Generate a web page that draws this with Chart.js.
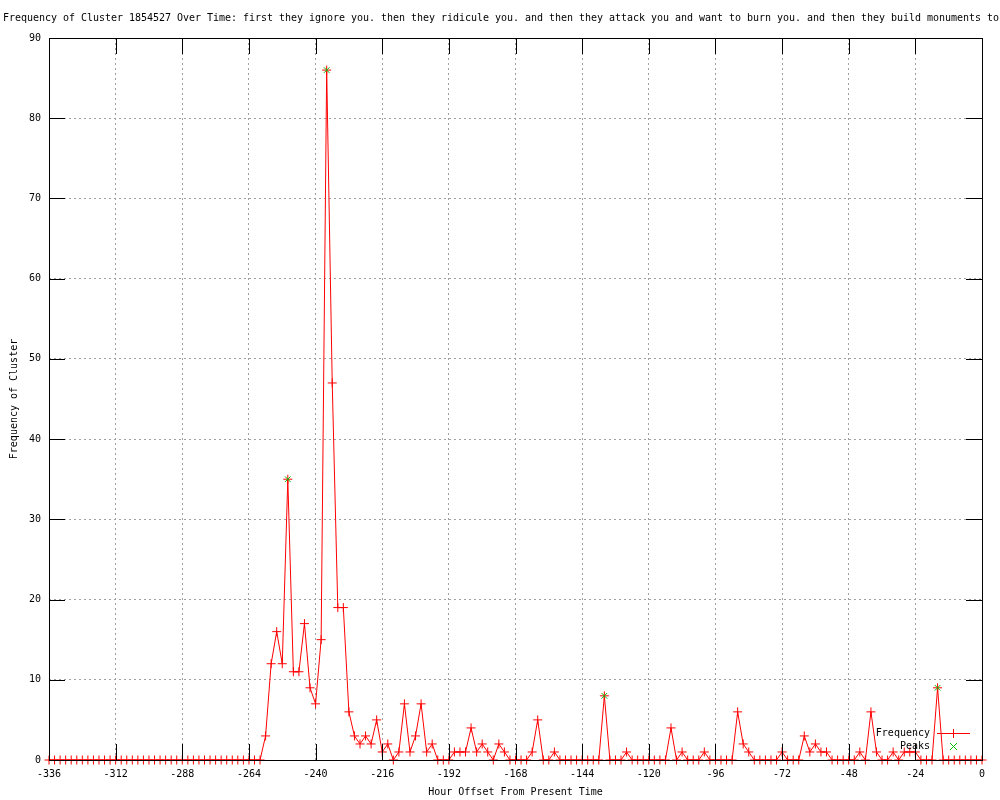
<!DOCTYPE html>
<html>
<head>
<meta charset="utf-8">
<script src="https://cdn.jsdelivr.net/npm/chart.js@4/dist/chart.umd.min.js"></script>
<style>
  html, body { margin: 0; padding: 0; background: #fff; }
  #wrap { width: 1000px; height: 800px; }
</style>
</head>
<body>
<div id="wrap"><canvas id="myChart" width="1000" height="800"></canvas></div>
<script>
// hour offsets, one sample every 2 hours
const hours = [];
for (let h = -336; h <= 0; h += 2) hours.push(h);

const frequency = [
    // -336 .. -260
    0, 0, 0, 0, 0, 0, 0, 0, 0, 0, 0, 0, 0, 0, 0, 0, 0, 0, 0, 0,
    0, 0, 0, 0, 0, 0, 0, 0, 0, 0, 0, 0, 0, 0, 0, 0, 0, 0, 0,
    // -258 .. -196
    3, 12, 16, 12, 35, 11, 11, 17, 9, 7, 15, 86, 47, 19, 19, 6,
    3, 2, 3, 2, 5, 1, 2, 0, 1, 7, 1, 3, 7, 1, 2, 0,
    // -194 .. 0
    0, 0, 1, 1, 1, 4, 1, 2, 1, 0,
    2, 1, 0, 0, 0, 0, 1, 5, 0, 0,
    1, 0, 0, 0, 0, 0, 0, 0, 0, 8,
    0, 0, 0, 1, 0, 0, 0, 0, 0, 0,
    0, 4, 0, 1, 0, 0, 0, 1, 0, 0,
    0, 0, 0, 6, 2, 1, 0, 0, 0, 0,
    0, 1, 0, 0, 0, 3, 1, 2, 1, 1,
    0, 0, 0, 0, 0, 1, 0, 6, 1, 0,
    0, 1, 0, 1, 1, 1, 0, 0, 0, 9,
    0, 0, 0, 0, 0, 0, 0, 0
];

const peakHours = [-250, -236, -136, -16];
const peakValues = [35, 86, 8, 9];

const titleText = "Frequency of Cluster 1854527 Over Time: first they ignore you. then they ridicule you. and then they attack you and want to burn you. and then they build monuments to";

const monoFamily = "'DejaVu Sans Mono', 'Liberation Mono', monospace";
const monoFont = { family: monoFamily, size: 10 };
const red = "#ff0000";
const green = "#00c000";

// gnuplot style title, frame, inward ticks and legend
const gnuplotFrame = {
    id: "gnuplotFrame",
    beforeDraw(chart) {
        const ctx = chart.ctx;
        ctx.save();
        ctx.font = "10px " + monoFamily;
        ctx.fillStyle = "#000";
        ctx.textAlign = "left";
        ctx.textBaseline = "middle";
        // spread the characters to the same pitch as the original
        const pitch = 6.0;
        for (let i = 0; i < titleText.length; i++) {
            ctx.fillText(titleText[i], 3 + i * pitch, 18);
        }
        ctx.restore();
    },
    afterDatasetsDraw(chart) {
        const ctx = chart.ctx;
        const a = chart.chartArea;
        const x = chart.scales.x;
        const y = chart.scales.y;
        const L = Math.round(a.left), R = Math.round(a.right);
        const T = Math.round(a.top), B = Math.round(a.bottom);
        const tick = 16;
        ctx.save();
        ctx.fillStyle = "#000";
        ctx.fillRect(L, T, R - L + 1, 1);
        ctx.fillRect(L, B, R - L + 1, 1);
        ctx.fillRect(L, T, 1, B - T + 1);
        ctx.fillRect(R, T, 1, B - T + 1);
        x.ticks.forEach(function (t) {
            const px = Math.round(x.getPixelForValue(t.value));
            ctx.fillRect(px, B - tick, 1, tick);
            ctx.fillRect(px, T, 1, tick);
        });
        y.ticks.forEach(function (t) {
            const py = Math.round(y.getPixelForValue(t.value));
            ctx.fillRect(L, py, tick, 1);
            ctx.fillRect(R - tick, py, tick, 1);
        });

        // legend
        ctx.font = "10px " + monoFamily;
        ctx.textAlign = "right";
        ctx.textBaseline = "middle";
        ctx.fillText("Frequency", 930, 733);
        ctx.fillText("Peaks", 930, 746);

        ctx.fillStyle = red;
        ctx.fillRect(937, 733, 33, 1);
        ctx.fillRect(953, 729, 1, 9);

        ctx.fillStyle = green;
        for (let i = -3; i <= 3; i++) {
            ctx.fillRect(953 + i, 746 + i, 1, 1);
            ctx.fillRect(953 + i, 746 - i, 1, 1);
        }
        ctx.restore();
    }
};

const config = {
    type: "line",
    data: {
        datasets: [
            {
                label: "Frequency",
                data: hours.map(function (h, i) { return { x: h, y: frequency[i] }; }),
                borderColor: red,
                backgroundColor: red,
                borderWidth: 1,
                pointStyle: "cross",
                pointRadius: 4.5,
                pointBorderColor: red,
                pointBorderWidth: 1,
                tension: 0,
                clip: false,
                order: 2,
            },
            {
                label: "Peaks",
                data: peakHours.map(function (h, i) { return { x: h, y: peakValues[i] }; }),
                showLine: false,
                borderColor: green,
                backgroundColor: green,
                pointStyle: "crossRot",
                pointRadius: 4,
                pointBorderColor: green,
                pointBorderWidth: 1,
                clip: false,
                order: 1,
            },
        ],
    },
    options: {
        responsive: false,
        animation: false,
        events: [],
        layout: { padding: { left: 3, right: 18, top: 38, bottom: 0 } },
        plugins: {
            legend: { display: false },
            tooltip: { enabled: false },
            title: { display: false },
        },
        scales: {
            x: {
                type: "linear",
                min: -336,
                max: 0,
                afterFit: function (scale) { scale.height = 40; },
                ticks: {
                    stepSize: 24,
                    padding: 8,
                    color: "#000",
                    font: monoFont,
                    maxRotation: 0,
                    autoSkip: false,
                },
                grid: { color: "#a0a0a0", lineWidth: 1, drawTicks: false },
                border: { display: false, dash: [2, 3] },
                title: {
                    display: true,
                    text: "Hour Offset From Present Time",
                    color: "#000",
                    font: monoFont,
                    padding: { top: 4, bottom: 2 },
                },
            },
            y: {
                min: 0,
                max: 90,
                afterFit: function (scale) { scale.width = 46; },
                ticks: {
                    stepSize: 10,
                    padding: 8,
                    color: "#000",
                    font: monoFont,
                },
                grid: { color: "#a0a0a0", lineWidth: 1, drawTicks: false },
                border: { display: false, dash: [2, 3] },
                title: {
                    display: true,
                    text: "Frequency of Cluster",
                    color: "#000",
                    font: monoFont,
                    padding: { top: 5, bottom: 0 },
                },
            },
        },
    },
    plugins: [gnuplotFrame],
};

new Chart(document.getElementById("myChart"), config);
</script>
</body>
</html>
